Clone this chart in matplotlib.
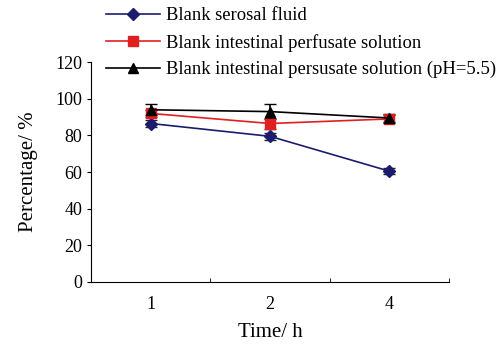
import numpy as np
from matplotlib import pyplot as plt
from matplotlib.lines import Line2D

plt.rcParams['font.family'] = ['Liberation Serif', 'DejaVu Serif']

times = ["1", "2", "4"]
serosal = [86.5, 79.5, 60.5]
serosal_err = [2.0, 2.0, 1.5]
perfusate = [92.0, 86.5, 89.0]
perfusate_err = [2.0, 3.0, 2.0]
persusate = [94.0, 93.0, 89.5]
persusate_err = [3.0, 4.0, 2.0]

labels = ["Blank serosal fluid",
          "Blank intestinal perfusate solution",
          "Blank intestinal persusate solution (pH=5.5)"]
colors = ['#1c1c6e', '#e02020', 'black']
markers = ['D', 's', '^']
msizes = [6, 7, 7]

fig = plt.figure(figsize=(5.01, 3.49), dpi=100)
ax = fig.add_axes([0.182, 0.192, 0.714, 0.63])

x = np.arange(len(times))
series = [(serosal, serosal_err), (perfusate, perfusate_err), (persusate, persusate_err)]
handles = []
for (vals, err), c, m, ms, lab in zip(series, colors, markers, msizes, labels):
    ax.errorbar(x, vals, yerr=err, color=c, marker=m, ms=ms, lw=1.2,
                capsize=4.5, ecolor='#222222' if c != 'black' else 'black')
    handles.append(Line2D([], [], color=c, marker=m, ms=ms, lw=1.2, label=lab))

ax.set_xlim(-0.5, 2.5)
ax.set_ylim(0, 120)
ax.set_yticks(np.arange(0, 121, 20))
ax.set_xticks(x)
ax.set_xticklabels(times)
ax.tick_params(axis='x', length=0, labelsize=13, pad=10)
ax.set_xticks([0.5, 1.5, 2.5], minor=True)
ax.tick_params(axis='x', which='minor', direction='in', length=3)
ax.tick_params(axis='y', direction='out', length=3, labelsize=13)
for s in ['top', 'right']:
    ax.spines[s].set_visible(False)

ax.set_xlabel("Time/ h", fontsize=15, labelpad=7)
ax.set_ylabel("Percentage/ %", fontsize=15, labelpad=12)

fig.legend(handles=handles, loc='upper left', bbox_to_anchor=(0.2, 0.995), frameon=False,
           fontsize=13.4, handlelength=2.9, handletextpad=0.35, labelspacing=0.5,
           borderaxespad=0.1, borderpad=0.2)

fig.savefig("out.png", dpi=100)
